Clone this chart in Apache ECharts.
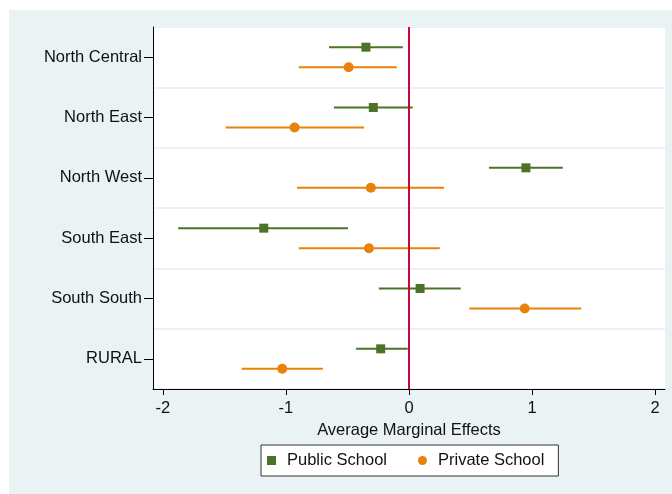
<!DOCTYPE html>
<html>
<head>
<meta charset="utf-8">
<script src="https://cdn.jsdelivr.net/npm/echarts@6/dist/echarts.min.js"></script>
<style>
  html, body { margin: 0; padding: 0; background: #ffffff; }
  #chart { position: absolute; left: 9px; top: 10px; width: 663px; height: 484px; background: #eaf2f3; }
</style>
</head>
<body>
<div id="chart"></div>
<script>
const categories = ['North Central', 'North East', 'North West', 'South East', 'South South', 'RURAL'];
const publicEst  = [-0.35, -0.29, 0.95, -1.18, 0.09, -0.23];
const publicLow  = [-0.65, -0.61, 0.65, -1.875, -0.245, -0.43];
const publicHigh = [-0.05, 0.03, 1.25, -0.495, 0.42, -0.01];
const privateEst  = [-0.49, -0.93, -0.31, -0.325, 0.94, -1.03];
const privateLow  = [-0.895, -1.49, -0.91, -0.895, 0.49, -1.36];
const privateHigh = [-0.10, -0.365, 0.285, 0.25, 1.40, -0.70];
const xTicks = [-2, -1, 0, 1, 2];
const refLine = 0;

const GREEN = '#4f7229';
const ORANGE = '#e8820a';
const RED = '#c8073a';
const FONT = '"Liberation Sans", Arial, Helvetica, sans-serif';

function rows(lo, est, hi) {
  return categories.map((c, i) => [lo[i], est[i], hi[i], i]);
}

function makeRender(color, dy, shape) {
  return function (params, api) {
    const cat = api.value(3);
    const a = api.coord([api.value(0), cat]);
    const b = api.coord([api.value(2), cat]);
    const c = api.coord([api.value(1), cat]);
    const y = c[1] + dy;
    const marker = shape === 'rect'
      ? { type: 'rect', shape: { x: c[0] - 4.5, y: y - 4.5, width: 9, height: 9 }, style: { fill: color } }
      : { type: 'circle', shape: { cx: c[0], cy: y, r: 5 }, style: { fill: color } };
    return {
      type: 'group',
      children: [
        { type: 'line', shape: { x1: a[0], y1: y, x2: b[0], y2: y }, style: { stroke: color, lineWidth: 2 } },
        marker
      ]
    };
  };
}

const chart = echarts.init(document.getElementById('chart'), null, { renderer: 'canvas' });
chart.setOption({
  animation: false,
  backgroundColor: '#eaf2f3',
  textStyle: { fontFamily: FONT },
  grid: {
    left: 144, top: 17, width: 512, height: 362,
    show: true, backgroundColor: '#ffffff', borderWidth: 0
  },
  legend: {
    data: [
      { name: 'Public School', icon: 'rect' },
      { name: 'Private School', icon: 'circle' }
    ],
    left: 252, top: 435,
    itemWidth: 9, itemHeight: 9, itemGap: 31,
    backgroundColor: '#ffffff', borderColor: '#333333', borderWidth: 1,
    padding: [7, 14, 7, 6],
    textStyle: { fontSize: 16.5, color: '#111111', fontFamily: FONT, padding: [0, 0, 0, 6] }
  },
  xAxis: {
    type: 'value',
    min: -2.08, max: 2.08,
    name: 'Average Marginal Effects',
    nameLocation: 'middle',
    nameGap: 26,
    nameTextStyle: { fontSize: 16.5, color: '#111111', fontFamily: FONT },
    axisLine: { show: true, onZero: false, lineStyle: { color: '#000000', width: 1 } },
    axisTick: { show: true, length: 6, lineStyle: { color: '#000000' }, customValues: xTicks },
    axisLabel: { fontSize: 16.5, color: '#111111', margin: 11, customValues: xTicks, fontFamily: FONT },
    splitLine: { show: false }
  },
  yAxis: {
    type: 'category',
    inverse: true,
    data: categories,
    axisLine: { show: true, onZero: false, lineStyle: { color: '#000000', width: 1 } },
    axisTick: { show: true, alignWithLabel: true, length: 9, lineStyle: { color: '#000000' } },
    axisLabel: { fontSize: 16.5, color: '#111111', margin: 11, fontFamily: FONT },
    splitLine: { show: true, lineStyle: { color: '#eaf2f3', width: 2 } }
  },
  series: [
    {
      name: 'Public School', type: 'custom',
      itemStyle: { color: GREEN },
      encode: { x: [0, 1, 2], y: 3 },
      renderItem: makeRender(GREEN, -10, 'rect'),
      data: rows(publicLow, publicEst, publicHigh),
      z: 2
    },
    {
      name: 'Private School', type: 'custom',
      itemStyle: { color: ORANGE },
      encode: { x: [0, 1, 2], y: 3 },
      renderItem: makeRender(ORANGE, 10, 'circle'),
      data: rows(privateLow, privateEst, privateHigh),
      z: 2
    },
    {
      name: 'ref', type: 'line', data: [], z: 5,
      markLine: {
        silent: true, symbol: ['none', 'none'],
        label: { show: false },
        lineStyle: { color: RED, width: 2, type: 'solid' },
        data: [{ xAxis: refLine }]
      }
    }
  ]
});
</script>
</body>
</html>
